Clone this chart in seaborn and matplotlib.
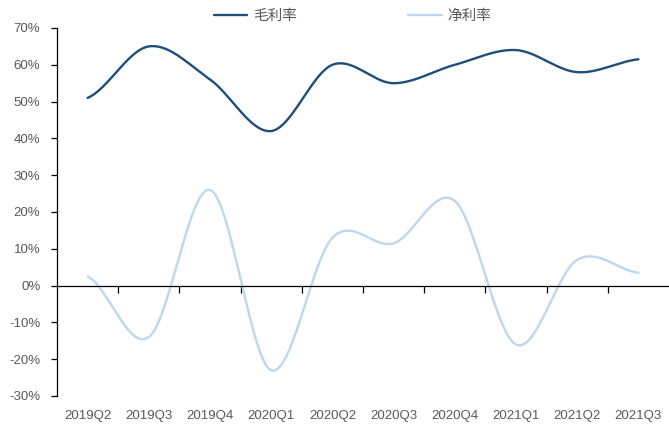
import numpy as np
import pandas as pd
import seaborn as sns
import matplotlib
import matplotlib.pyplot as plt
from matplotlib.ticker import FuncFormatter
from matplotlib.lines import Line2D

sns.set_theme(style='white')
plt.rcParams['font.family'] = ['Liberation Sans', 'Noto Sans CJK SC', 'DejaVu Sans']

# 数据
quarters = ['2019Q2', '2019Q3', '2019Q4', '2020Q1', '2020Q2',
            '2020Q3', '2020Q4', '2021Q1', '2021Q2', '2021Q3']
gross_margin = [51.0, 65.0, 56.0, 42.0, 60.0, 55.0, 60.0, 64.0, 58.0, 61.5]
net_margin = [2.5, -14.0, 26.0, -23.0, 13.0, 11.5, 23.0, -16.0, 7.0, 3.5]

dark_blue = '#1F4E79'
light_blue = '#BDD7EE'


# Excel-style smooth line (Catmull-Rom through the points)
def smooth(y, n=40):
    y = np.asarray(y, dtype=float)
    x = np.arange(len(y), dtype=float)
    xs, ys = [], []
    for i in range(len(y) - 1):
        p0 = y[i - 1] if i > 0 else y[i]
        p1, p2 = y[i], y[i + 1]
        p3 = y[i + 2] if i + 2 < len(y) else y[i + 1]
        t = np.linspace(0, 1, n, endpoint=False)
        c1 = p1 + (p2 - p0) / 6
        c2 = p2 - (p3 - p1) / 6
        yy = ((1 - t) ** 3 * p1 + 3 * (1 - t) ** 2 * t * c1
              + 3 * (1 - t) * t ** 2 * c2 + t ** 3 * p2)
        xs.append(x[i] + t)
        ys.append(yy)
    xs.append([x[-1]])
    ys.append([y[-1]])
    return np.concatenate(xs), np.concatenate(ys)


frames = []
for name, vals in [('毛利率', gross_margin), ('净利率', net_margin)]:
    sx, sy = smooth(vals)
    frames.append(pd.DataFrame({'x': sx, 'y': sy, 'series': name}))
df = pd.concat(frames, ignore_index=True)

fig = plt.figure(figsize=(6.69, 4.30), dpi=100)
ax = fig.add_axes([57 / 669, 34 / 430, 612 / 669, 368 / 430])

sns.lineplot(data=df, x='x', y='y', hue='series', sort=False,
             palette={'毛利率': dark_blue, '净利率': light_blue},
             linewidth=1.7, legend=False, ax=ax)

ax.set_xlim(-0.5, len(quarters) - 0.5)
ax.set_ylim(-30, 70)
ax.set_xlabel('')
ax.set_ylabel('')

for s in ['top', 'right']:
    ax.spines[s].set_visible(False)
ax.spines['bottom'].set_position(('data', 0))
ax.spines['left'].set_color('black')
ax.spines['bottom'].set_color('black')
ax.spines['left'].set_linewidth(0.9)
ax.spines['bottom'].set_linewidth(0.9)

ax.set_yticks(np.arange(-30, 71, 10))
ax.yaxis.set_major_formatter(FuncFormatter(lambda v, p: '{:.0f}%'.format(v)))
ax.tick_params(axis='y', left=True, direction='out', length=4, width=0.9,
               color='black', labelsize=9.5, labelcolor='#595959', pad=8)

# x ticks at category boundaries, labels at the bottom
ax.set_xticks(np.arange(0.5, len(quarters) - 1, 1.0))
ax.set_xticklabels([])
ax.tick_params(axis='x', bottom=True, direction='out', length=5, width=0.9,
               color='black')
for i, q in enumerate(quarters):
    ax.text(i, -33.8, q, ha='center', va='top', fontsize=9.5, color='#595959')

handles = [Line2D([], [], color=dark_blue, lw=1.7),
           Line2D([], [], color=light_blue, lw=1.7)]
fig.legend(handles, ['毛利率', '净利率'], loc='upper center',
           bbox_to_anchor=(0.527, 1.01), ncol=2, frameon=False,
           labelcolor='#595959', handlelength=2.3,
           columnspacing=7.6, handletextpad=0.4,
           prop={'family': ['Noto Sans CJK SC'], 'size': 10.5})

fig.savefig('out.png', dpi=100)
